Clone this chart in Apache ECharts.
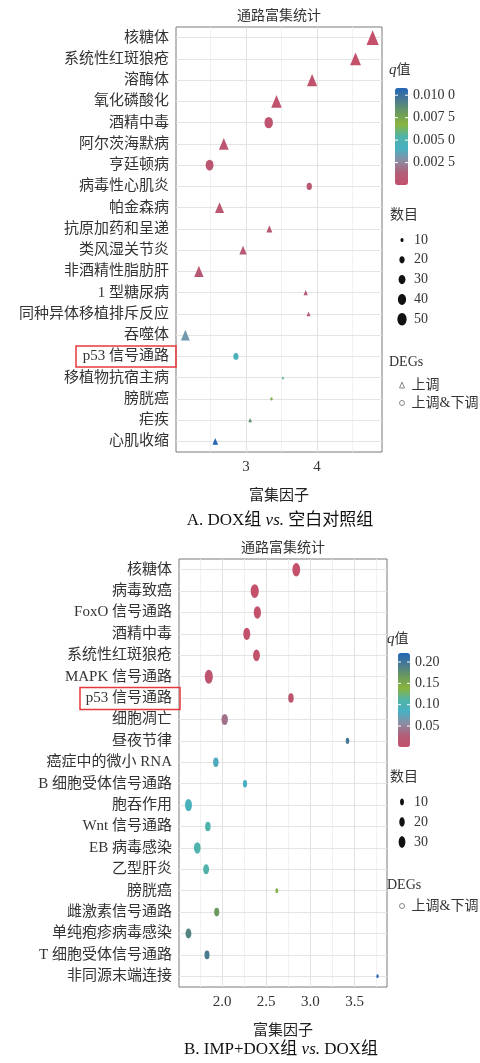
<!DOCTYPE html>
<html>
<head>
<meta charset="utf-8">
<script src="https://cdn.jsdelivr.net/npm/echarts@6/dist/echarts.min.js"></script>
<style>
html,body{margin:0;padding:0;background:#fff}
#chart{width:480px;height:1063px}
</style>
</head>
<body>
<div id="chart"></div>
<script>
// ---- A. DOX组 vs. 空白对照组 ----
var pathwaysA = ['核糖体','系统性红斑狼疮','溶酶体','氧化磷酸化','酒精中毒','阿尔茨海默病','亨廷顿病','病毒性心肌炎','帕金森病','抗原加药和呈递','类风湿关节炎','非酒精性脂肪肝','1 型糖尿病','同种异体移植排斥反应','吞噬体','p53 信号通路','移植物抗宿主病','膀胱癌','疟疾','心肌收缩'];
var richFactorA = [4.78,4.54,3.93,3.43,3.32,2.69,2.49,3.89,2.63,3.33,2.96,2.34,3.84,3.88,2.15,2.86,3.52,3.36,3.06,2.57];
var qValueA = [0.00001,0.0001,0.0002,0.0003,0.0004,0.0005,0.0006,0.0007,0.0007,0.0008,0.0008,0.0009,0.0009,0.001,0.0032,0.0046,0.0058,0.0072,0.0086,0.0108];
var countA = [52,42,38,40,43,35,38,20,31,16,22,33,11,10,30,19,7,8,9,15];
var degA = ['up','up','up','up','both','up','both','both','up','up','up','up','up','up','up','both','up','both','up','up'];
var xTicksA = [3, 4];
var xMinorA = [2.5, 3.5, 4.5];
var qTicksA = [0.0025, 0.005, 0.0075, 0.01];
var qLabelsA = ['0.002 5', '0.005 0', '0.007 5', '0.010 0'];
var sizeBreaksA = [10, 20, 30, 40, 50];

// ---- B. IMP+DOX组 vs. DOX组 ----
var pathwaysB = ['核糖体','病毒致癌','FoxO 信号通路','酒精中毒','系统性红斑狼疮','MAPK 信号通路','p53 信号通路','细胞凋亡','昼夜节律','癌症中的微小 RNA','B 细胞受体信号通路','胞吞作用','Wnt 信号通路','EB 病毒感染','乙型肝炎','膀胱癌','雌激素信号通路','单纯疱疹病毒感染','T 细胞受体信号通路','非同源末端连接'];
var richFactorB = [2.84,2.37,2.40,2.28,2.39,1.85,2.78,2.03,3.42,1.93,2.26,1.62,1.84,1.72,1.82,2.62,1.94,1.62,1.83,3.76];
var qValueB = [0.001,0.002,0.003,0.004,0.005,0.01,0.012,0.04,0.198,0.08,0.085,0.09,0.107,0.104,0.11,0.145,0.166,0.185,0.193,0.221];
var countB = [41,44,35,33,31,44,20,28,8,20,12,33,20,30,23,5,17,23,17,3];
var xTicksB = [2.0, 2.5, 3.0, 3.5];
var xMinorB = [1.75, 2.25, 2.75, 3.25, 3.75];
var qTicksB = [0.05, 0.1, 0.15, 0.2];
var qLabelsB = ['0.05', '0.10', '0.15', '0.20'];
var sizeBreaksB = [10, 20, 30];

var FONT = '"Liberation Serif", "Noto Sans CJK SC", serif';
var qColors = ['#c4506a','#b05e78','#8c8ca3','#48b0c2','#50b3a8','#8ab43e','#6a9a5e','#4a7a90','#2266b5'];

function padRange(arr) {
    var lo = Math.min.apply(null, arr), hi = Math.max.apply(null, arr);
    var p = (hi - lo) * 0.05;
    return [lo - p, hi + p];
}
// area-linear size scale, like ggplot scale_size
function sizeScale(counts, sMin, sMax) {
    var nMin = Math.min.apply(null, counts), nMax = Math.max.apply(null, counts);
    return function (n) {
        var t = Math.max(0, (n - nMin) / (nMax - nMin));
        return Math.sqrt(sMin * sMin + (sMax * sMax - sMin * sMin) * t);
    };
}
var sizeA = sizeScale(countA, 2, 9.4);
var sizeB = sizeScale(countB, 2.5, 9);

function pick(cats, rf, q, n, deg, kind) {
    var out = [];
    for (var i = 0; i < cats.length; i++) {
        if (!deg || deg[i] === kind) out.push([rf[i], cats[i], q[i], n[i]]);
    }
    return out;
}

var gridA = {left: 176, top: 27, width: 206, height: 425};
var gridB = {left: 179, top: 559, width: 208, height: 428};
var xRangeA = padRange(richFactorA);
var xRangeB = padRange(richFactorB);
var vmA = {left: 395, top: 88, width: 13, height: 97, min: Math.min.apply(null, qValueA), max: Math.max.apply(null, qValueA)};
var vmB = {left: 398, top: 653, width: 12, height: 94, min: Math.min.apply(null, qValueB), max: Math.max.apply(null, qValueB)};

function gridLines(majors, minors, cats) {
    var d = [];
    majors.forEach(function (v) { d.push({xAxis: v, lineStyle: {color: '#e2e2e2', width: 1}}); });
    minors.forEach(function (v) { d.push({xAxis: v, lineStyle: {color: '#eeeeee', width: 0.8}}); });
    cats.forEach(function (c) { d.push({yAxis: c, lineStyle: {color: '#e4e4e4', width: 1}}); });
    return d;
}

function xAxisOf(gi, range, ticks, fmt) {
    return {
        type: 'value', gridIndex: gi, min: range[0], max: range[1],
        splitLine: {show: false}, axisLine: {show: false},
        axisTick: {customValues: ticks, length: 3, lineStyle: {color: '#333'}},
        axisLabel: {customValues: ticks, formatter: fmt, margin: 8, fontSize: 15, color: '#333', fontFamily: FONT},
        name: '富集因子', nameLocation: 'middle', nameGap: 37,
        nameTextStyle: {fontSize: 15, color: '#222', fontFamily: FONT}
    };
}
function yAxisOf(gi, cats) {
    return {
        type: 'category', gridIndex: gi, data: cats, inverse: true,
        axisLine: {show: false}, splitLine: {show: false},
        axisTick: {alignWithLabel: true, length: 3, lineStyle: {color: '#333'}},
        axisLabel: {interval: 0, margin: 7, fontSize: 15, color: '#333', fontFamily: FONT}
    };
}

var chart = echarts.init(document.getElementById('chart'), null, {renderer: 'canvas'});

var graphics = [];
function txt(x, y, text, size, align, color, rich) {
    graphics.push({
        type: 'text', x: x, y: y, z: 100, silent: true,
        style: {text: text, fontSize: size, fontFamily: FONT, fill: color || '#333',
            align: align || 'left', textAlign: align || 'left', verticalAlign: 'middle', textVerticalAlign: 'middle', rich: rich}
    });
}
function qLegend(vm, ticks, labels, titleX, titleY) {
    txt(titleX, titleY, '{i|q}值', 14, 'left', '#333', {i: {fontStyle: 'italic', fontSize: 15, fontFamily: FONT}});
    ticks.forEach(function (v, i) {
        var y = vm.top + (1 - (v - vm.min) / (vm.max - vm.min)) * vm.height;
        graphics.push({type: 'line', z: 100, silent: true, shape: {x1: vm.left, y1: y, x2: vm.left + 3, y2: y}, style: {stroke: '#fff', lineWidth: 1}});
        graphics.push({type: 'line', z: 100, silent: true, shape: {x1: vm.left + vm.width - 3, y1: y, x2: vm.left + vm.width, y2: y}, style: {stroke: '#fff', lineWidth: 1}});
        txt(vm.left + vm.width + 5, y, labels[i], 14, 'left', '#333');
    });
}
function sizeLegend(breaks, scale, wk, hk, x, y0, step, titleY) {
    txt(x - 12, titleY, '数目', 14, 'left', '#333');
    breaks.forEach(function (n, i) {
        var s = scale(n), y = y0 + i * step;
        graphics.push({type: 'ellipse', z: 100, silent: true, shape: {cx: x, cy: y, rx: s * wk / 2, ry: s * hk / 2}, style: {fill: '#111'}});
        txt(x + 12, y, String(n), 14, 'left', '#333');
    });
}

// panel titles & captions
txt(gridA.left + gridA.width / 2, 16, '通路富集统计', 14, 'center', '#333');
txt(gridB.left + gridB.width / 2, 548, '通路富集统计', 14, 'center', '#333');
txt(280, 521, 'A. DOX组 {i|vs.} 空白对照组', 17, 'center', '#111', {i: {fontStyle: 'italic', fontSize: 17, fontFamily: FONT}});
txt(281, 1050, 'B. IMP+DOX组 {i|vs.} DOX组', 17, 'center', '#111', {i: {fontStyle: 'italic', fontSize: 17, fontFamily: FONT}});

qLegend(vmA, qTicksA, qLabelsA, 389, 70);
qLegend(vmB, qTicksB, qLabelsB, 387, 639);
sizeLegend(sizeBreaksA, sizeA, 1, 1.35, 402, 240, 19.8, 215);
sizeLegend(sizeBreaksB, sizeB, 0.9, 1.55, 402, 802, 20, 777);
txt(389, 362, 'DEGs', 14, 'left', '#333');
txt(387, 885, 'DEGs', 14, 'left', '#333');

var legendBase = {
    orient: 'vertical', itemWidth: 5, itemHeight: 6, itemGap: 4, selectedMode: false, padding: 0,
    textStyle: {fontSize: 14, color: '#333', fontFamily: FONT, padding: [0, 0, 0, 2]},
    itemStyle: {color: '#fff', borderColor: '#888', borderWidth: 1}
};

var option = {
    backgroundColor: '#fff',
    animation: false,
    textStyle: {fontFamily: FONT},
    grid: [
        Object.assign({show: true, borderColor: '#7a7a7a', borderWidth: 1, backgroundColor: '#fff', outerBoundsMode: 'none'}, gridA),
        Object.assign({show: true, borderColor: '#7a7a7a', borderWidth: 1, backgroundColor: '#fff', outerBoundsMode: 'none'}, gridB)
    ],
    xAxis: [
        xAxisOf(0, xRangeA, xTicksA, function (v) { return String(Math.round(v)); }),
        xAxisOf(1, xRangeB, xTicksB, function (v) { return v.toFixed(1); })
    ],
    yAxis: [yAxisOf(0, pathwaysA), yAxisOf(1, pathwaysB)],
    visualMap: [
        {type: 'continuous', seriesIndex: [2, 3], dimension: 2, min: vmA.min, max: vmA.max,
            left: vmA.left, top: vmA.top, itemWidth: vmA.width, itemHeight: vmA.height, padding: 0,
            calculable: false, hoverLink: false, inRange: {color: qColors}},
        {type: 'continuous', seriesIndex: [4], dimension: 2, min: vmB.min, max: vmB.max,
            left: vmB.left, top: vmB.top, itemWidth: vmB.width, itemHeight: vmB.height, padding: 0,
            calculable: false, hoverLink: false, inRange: {color: qColors}}
    ],
    legend: [
        Object.assign({data: ['上调', '上调&下调'], left: 399, top: 378}, legendBase),
        Object.assign({data: ['上调&下调'], left: 399, top: 899}, legendBase)
    ],
    series: [
        {type: 'scatter', name: 'gridA', xAxisIndex: 0, yAxisIndex: 0, data: [], silent: true, z: 1,
            markLine: {z: 1, silent: true, symbol: ['none', 'none'], label: {show: false}, animation: false,
                lineStyle: {type: 'solid'}, emphasis: {disabled: true}, data: gridLines(xTicksA, xMinorA, pathwaysA)}},
        {type: 'scatter', name: 'gridB', xAxisIndex: 1, yAxisIndex: 1, data: [], silent: true, z: 1,
            markLine: {z: 1, silent: true, symbol: ['none', 'none'], label: {show: false}, animation: false,
                lineStyle: {type: 'solid'}, emphasis: {disabled: true}, data: gridLines(xTicksB, xMinorB, pathwaysB)}},
        {type: 'scatter', name: '上调', xAxisIndex: 0, yAxisIndex: 0, symbol: 'triangle', z: 10,
            symbolSize: function (v) { var s = sizeA(v[3]); return [s * 1.3, s * 1.55]; },
            itemStyle: {opacity: 1}, emphasis: {disabled: true},
            data: pick(pathwaysA, richFactorA, qValueA, countA, degA, 'up')},
        {type: 'scatter', name: '上调&下调', xAxisIndex: 0, yAxisIndex: 0, symbol: 'circle', z: 10,
            symbolSize: function (v) { var s = sizeA(v[3]); return [s, s * 1.35]; },
            itemStyle: {opacity: 1}, emphasis: {disabled: true},
            data: pick(pathwaysA, richFactorA, qValueA, countA, degA, 'both')},
        {type: 'scatter', name: '上调&下调', xAxisIndex: 1, yAxisIndex: 1, symbol: 'circle', z: 10,
            symbolSize: function (v) { var s = sizeB(v[3]); return [s * 0.9, s * 1.55]; },
            itemStyle: {opacity: 1}, emphasis: {disabled: true},
            data: pick(pathwaysB, richFactorB, qValueB, countB, null, null)}
    ],
    graphic: {elements: graphics}
};
chart.setOption(option);

// red boxes around the p53 labels
var yA = chart.convertToPixel({yAxisIndex: 0}, pathwaysA.indexOf('p53 信号通路'));
var yB = chart.convertToPixel({yAxisIndex: 1}, pathwaysB.indexOf('p53 信号通路'));
graphics.push({type: 'rect', z: 100, silent: true, shape: {x: gridA.left - 100, y: yA - 10.5, width: 100, height: 21}, style: {fill: 'none', stroke: '#e8383d', lineWidth: 1.5}});
graphics.push({type: 'rect', z: 100, silent: true, shape: {x: gridB.left - 99, y: yB - 10.5, width: 100, height: 22}, style: {fill: 'none', stroke: '#e8383d', lineWidth: 1.5}});
chart.setOption({graphic: {elements: graphics}}, {replaceMerge: ['graphic']});
</script>
</body>
</html>
